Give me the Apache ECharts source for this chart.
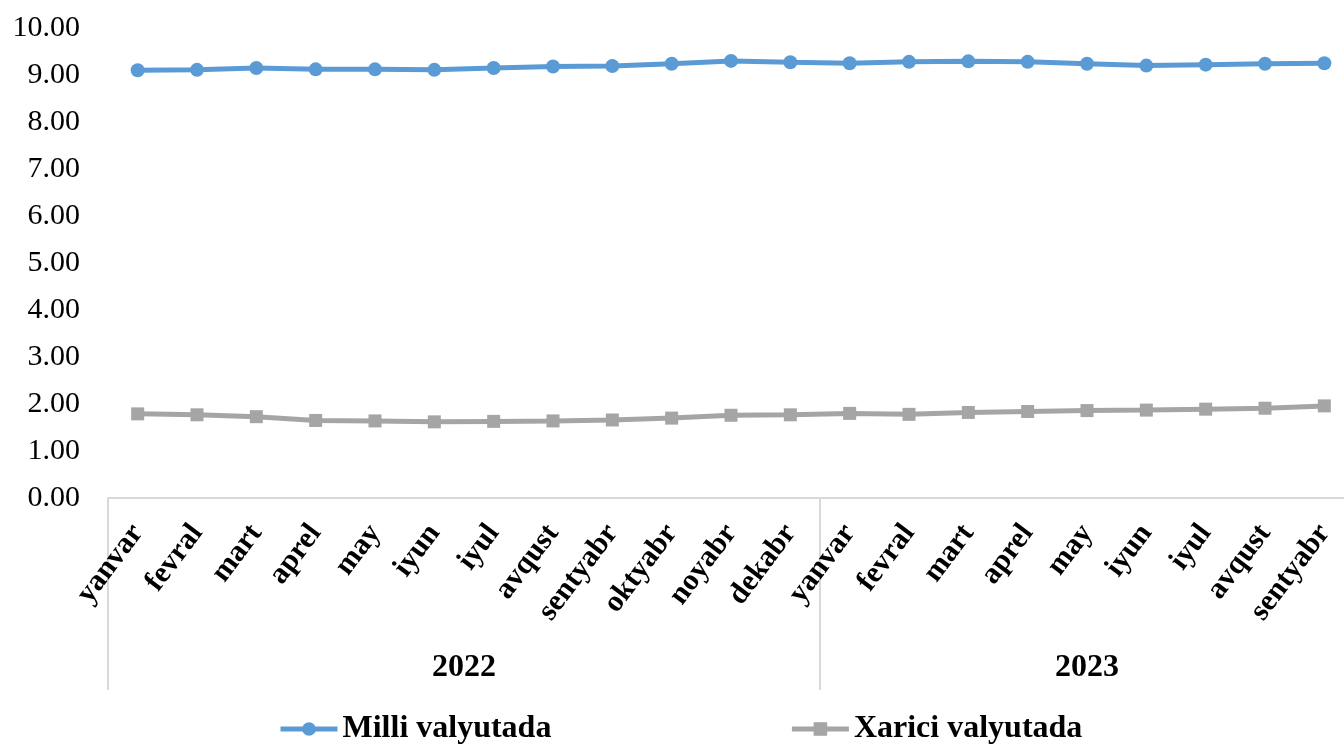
<!DOCTYPE html>
<html>
<head>
<meta charset="utf-8">
<script src="https://cdn.jsdelivr.net/npm/echarts@6/dist/echarts.min.js"></script>
<style>
html,body{margin:0;padding:0;background:#fff;overflow:hidden;}
#chart{width:1354px;height:744px;}
</style>
</head>
<body>
<div id="chart"></div>
<script>
const months = ['yanvar','fevral','mart','aprel','may','iyun','iyul','avqust','sentyabr','oktyabr','noyabr','dekabr',
                'yanvar','fevral','mart','aprel','may','iyun','iyul','avqust','sentyabr'];
const years = ['2022','2023'];
const yearCounts = [12, 9];
const milliValyutada = [9.10,9.11,9.15,9.12,9.12,9.11,9.15,9.18,9.19,9.24,9.30,9.27,
                        9.25,9.28,9.29,9.28,9.24,9.20,9.22,9.24,9.25];
const xariciValyutada = [1.79,1.77,1.73,1.65,1.64,1.62,1.63,1.64,1.66,1.70,1.76,1.77,
                         1.80,1.78,1.82,1.84,1.86,1.87,1.89,1.91,1.96];
const yTicks = [0,1,2,3,4,5,6,7,8,9,10];

// derived positions of year groups on the category scale
const boundaries = [0];
yearCounts.forEach(c => boundaries.push(boundaries[boundaries.length-1] + c));
const mids = yearCounts.map((c,i) => boundaries[i] + c/2);
const midLabel = {};
mids.forEach((m,i) => midLabel[m] = years[i]);

const serif = '"Liberation Serif","Times New Roman",serif';
const chart = echarts.init(document.getElementById('chart'));
chart.setOption({
  animation: false,
  backgroundColor: '#fff',
  grid: {left: 108, right: 0, top: 28, bottom: 246, containLabel: false},
  legend: {
    left: 273, top: 708,
    itemWidth: 57, itemHeight: 17, itemGap: 238,
    lineStyle: {width: 5},
    textStyle: {fontFamily: serif, fontWeight: 'bold', fontSize: 32, color: '#000'},
    data: ['Milli valyutada','Xarici valyutada']
  },
  xAxis: [{
    type: 'category',
    data: months,
    boundaryGap: true,
    axisLine: {show: true, lineStyle: {color: '#d9d9d9', width: 2}},
    axisTick: {show: false},
    axisLabel: {interval: 0, rotate: 53, margin: 30, fontFamily: serif, fontWeight: 'bold', fontSize: 30, color: '#000'}
  },{
    type: 'value',
    position: 'bottom',
    min: 0, max: boundaries[boundaries.length-1],
    axisLine: {show: false},
    splitLine: {show: false},
    axisTick: {show: true, customValues: boundaries, length: 192, lineStyle: {color: '#d9d9d9', width: 2}},
    axisLabel: {customValues: mids, margin: 154, fontFamily: serif, fontWeight: 'bold', fontSize: 32, color: '#000',
      formatter: v => midLabel[v] || ''}
  }],
  yAxis: {
    type: 'value', min: 0, max: 10, interval: 1,
    axisLine: {show: false}, axisTick: {show: false}, splitLine: {show: false},
    axisLabel: {margin: 28, fontFamily: serif, fontSize: 30, color: '#000', formatter: v => v.toFixed(2),
      customValues: yTicks}
  },
  series: [{
    name: 'Milli valyutada', type: 'line', data: milliValyutada,
    symbol: 'circle', symbolSize: 14,
    lineStyle: {color: '#5B9BD5', width: 5},
    itemStyle: {color: '#5B9BD5'}
  },{
    name: 'Xarici valyutada', type: 'line', data: xariciValyutada,
    symbol: 'rect', symbolSize: 13,
    lineStyle: {color: '#A5A5A5', width: 5},
    itemStyle: {color: '#A5A5A5'}
  }]
});
</script>
</body>
</html>
